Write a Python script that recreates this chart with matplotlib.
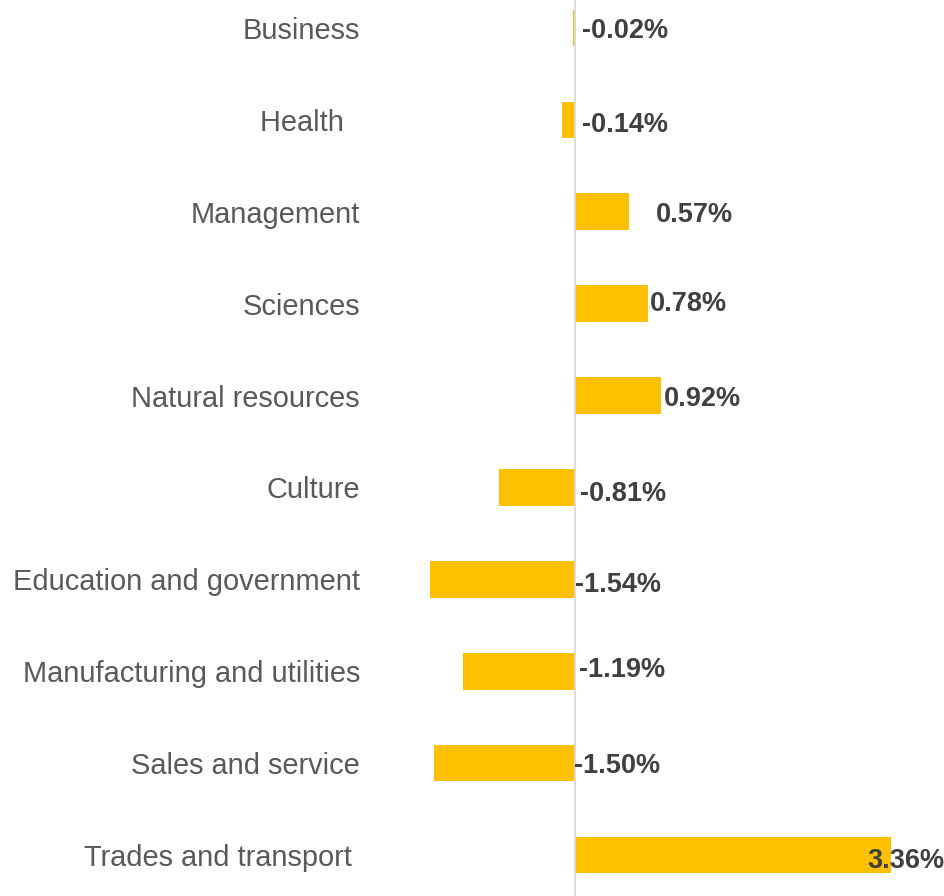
import matplotlib
matplotlib.use('Agg')
import matplotlib.pyplot as plt

categories = ['Business', 'Health', 'Management', 'Sciences', 'Natural resources',
              'Culture', 'Education and government', 'Manufacturing and utilities',
              'Sales and service', 'Trades and transport']
tick_labels = ['Business', 'Health  ', 'Management', 'Sciences', 'Natural resources',
               'Culture', 'Education and government', 'Manufacturing and utilities',
               'Sales and service', 'Trades and transport ']
values = [-0.02, -0.14, 0.57, 0.78, 0.92, -0.81, -1.54, -1.19, -1.50, 3.36]
value_labels = ['-0.02%', '-0.14%', '0.57%', '0.78%', '0.92%', '-0.81%',
                '-1.54%', '-1.19%', '-1.50%', '3.36%']

# label nudges in pixels (Excel placed them a bit unevenly)
dx_px = [7, 7, 27, 2, 2, 5, 0, 4, -1, -23]
dy_px = [-3, -5, -3, 0, -3, -7, -6, 1, -3, -6]

plt.rcParams['font.family'] = ['Liberation Sans', 'DejaVu Sans']

fig = plt.figure(figsize=(9.44, 8.96), dpi=100)
ax = fig.add_axes([370/944, 0, 1 - 370/944, 1])

ypos = list(range(len(categories)))
ax.barh(ypos, values, height=0.4, color='#FFC000')
ax.axvline(0, color='#D9D9D9', lw=1.3, zorder=3)

for i, v in enumerate(values):
    x = max(v, 0)
    ax.annotate(value_labels[i], (x, i), xytext=(dx_px[i]*0.72, dy_px[i]*0.72),
                textcoords='offset points', ha='left', va='center',
                fontsize=19.5, fontweight='bold', color='#404040', zorder=4)

ax.set_xlim(-(575-370)/94.0, (944-575)/94.0)
ax.set_ylim(9 + 41/91.9, -28/91.9)
ax.set_yticks(ypos)
ax.set_yticklabels(tick_labels, fontsize=20.9, color='#595959')
ax.tick_params(axis='y', length=0, pad=7.2)
ax.set_xticks([])
for s in ax.spines.values():
    s.set_visible(False)

fig.savefig('out.png', dpi=100)
